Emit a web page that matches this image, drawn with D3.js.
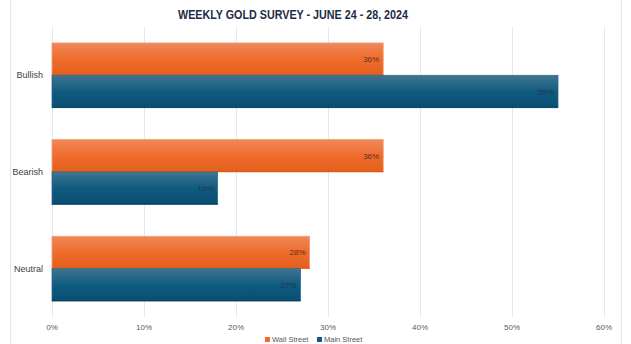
<!DOCTYPE html>
<html>
<head>
<meta charset="utf-8">
<script src="https://cdn.jsdelivr.net/npm/d3@7"></script>
<style>
  body { margin: 0; background: #fff; }
  svg { display: block; font-family: "Liberation Sans", Arial, sans-serif; }
</style>
</head>
<body>
<div id="container"></div>
<script>
// chart data
const categories = ["Bullish", "Bearish", "Neutral"]
const seriesNames = ["Wall Street", "Main Street"]
const wallStreet = [36, 36, 28]
const mainStreet = [55, 18, 27]
const xTicks = [0, 10, 20, 30, 40, 50, 60]

const width = 631,
  height = 344,
  margin = { top: 27, bottom: 27, left: 52, right: 27 }

const svg = d3.select("#container")
  .append("svg")
  .attr("width", width)
  .attr("height", height)

// gradients for the bars
const defs = svg.append("defs")
const grads = [
  { id: "gOrange", stops: ["#f0885a", "#ef6c2c", "#e35f1c"] },
  { id: "gBlue", stops: ["#417590", "#0f5b80", "#0a4e71"] }
]
grads.forEach(g => {
  const lg = defs.append("linearGradient")
    .attr("id", g.id)
    .attr("x1", 0).attr("y1", 0).attr("x2", 0).attr("y2", 1)
  g.stops.forEach((c, i) => lg.append("stop")
    .attr("offset", `${i * 50}%`)
    .attr("stop-color", c))
})
const strokes = ["#f59a70", "#2f6a8a"]
const bottomEdge = ["#d85a18", "#073f5e"]

// frame lines
svg.selectAll(".frame")
  .data([10.5, 621.5])
  .join("line")
  .attr("x1", d => d).attr("x2", d => d)
  .attr("y1", 0).attr("y2", height)
  .attr("stroke", "#dce8f5")
  .attr("stroke-width", 1.2)

// scales
const xScale = d3.scaleLinear()
  .domain([0, 60])
  .range([margin.left, 604])

const yScale = d3.scaleBand()
  .domain(categories)
  .range([margin.top, 317])
  .paddingInner(0.33)
  .paddingOuter(0.165)

const subScale = d3.scaleBand()
  .domain(seriesNames)
  .range([0, yScale.bandwidth()])

// gridlines
svg.selectAll(".grid")
  .data(xTicks)
  .join("line")
  .attr("class", "grid")
  .attr("x1", d => Math.round(xScale(d)) + 0.5)
  .attr("x2", d => Math.round(xScale(d)) + 0.5)
  .attr("y1", margin.top)
  .attr("y2", 317)
  .attr("stroke", "#dde8f5")
  .attr("stroke-width", 1)

// x axis labels
svg.selectAll(".xLabel")
  .data(xTicks)
  .join("text")
  .attr("class", "xLabel")
  .attr("x", d => xScale(d))
  .attr("y", 330)
  .attr("text-anchor", "middle")
  .attr("font-size", 8)
  .attr("fill", "#595959")
  .text(d => d + "%")

// category labels
svg.selectAll(".cat")
  .data(categories)
  .join("text")
  .attr("class", "cat")
  .attr("x", 43)
  .attr("y", d => yScale(d) + yScale.bandwidth() / 2 + 3)
  .attr("text-anchor", "end")
  .attr("font-size", 9)
  .attr("fill", "#404040")
  .text(d => d)

// bars
const rows = []
categories.forEach((c, i) => {
  rows.push({ cat: c, series: 0, value: wallStreet[i] })
  rows.push({ cat: c, series: 1, value: mainStreet[i] })
})

const barG = svg.selectAll(".bar")
  .data(rows)
  .join("g")
  .attr("class", "bar")
  .attr("transform", d => `translate(0, ${yScale(d.cat) + subScale(seriesNames[d.series])})`)

barG.append("rect")
  .attr("x", xScale(0))
  .attr("y", 0)
  .attr("width", d => xScale(d.value) - xScale(0))
  .attr("height", subScale.bandwidth())
  .attr("fill", d => d.series === 0 ? "url(#gOrange)" : "url(#gBlue)")
  .attr("stroke", d => strokes[d.series])
  .attr("stroke-width", 0.8)

barG.append("line")
  .attr("x1", xScale(0))
  .attr("x2", d => xScale(d.value))
  .attr("y1", subScale.bandwidth() - 0.5)
  .attr("y2", subScale.bandwidth() - 0.5)
  .attr("stroke", d => bottomEdge[d.series])
  .attr("stroke-width", 1)

barG.append("text")
  .attr("x", d => xScale(d.value) - 4)
  .attr("y", subScale.bandwidth() / 2 + 3)
  .attr("text-anchor", "end")
  .attr("font-size", 8)
  .attr("fill", d => d.series === 0 ? "#5a3020" : "#1e3a4d")
  .text(d => d.value + "%")

// title, condensed to the width of the original narrow face
svg.append("text")
  .attr("x", 178)
  .attr("y", 19)
  .attr("textLength", 230)
  .attr("lengthAdjust", "spacingAndGlyphs")
  .attr("font-weight", "bold")
  .attr("font-size", 13.5)
  .attr("fill", "#1c2b47")
  .text("WEEKLY GOLD SURVEY - JUNE 24 - 28, 2024")

// legend, sitting at the very bottom edge
const legend = svg.selectAll(".legend")
  .data(seriesNames)
  .join("g")
  .attr("class", "legend")
  .attr("transform", (d, i) => `translate(${265 + i * 52}, 342)`)

legend.append("rect")
  .attr("x", 0).attr("y", -5)
  .attr("width", 5).attr("height", 5)
  .attr("fill", (d, i) => i === 0 ? "#ef6c2c" : "#0f5b80")

legend.append("text")
  .attr("x", 7)
  .attr("y", 0)
  .attr("font-size", 7.5)
  .attr("fill", "#595959")
  .text(d => d)
</script>
</body>
</html>
